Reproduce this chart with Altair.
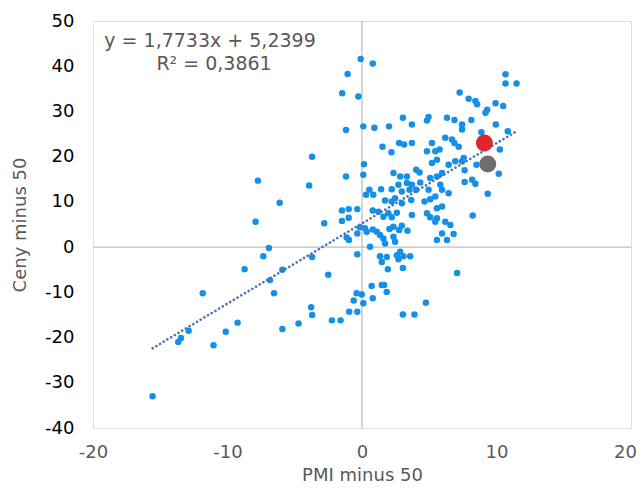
import altair as alt
import pandas as pd

# Blue scatter points: PMI minus 50 (x) and Ceny minus 50 (y)
pmi = [
    -7.74, -3.93, -1.19, -6.12, -7.91, -2.81, -1.49, -0.99, -1.49, -0.99, -0.35, -1.14, -0.97, -0.35,
    -6.92, -7.34, -3.71, -0.35, -8.73, -5.92, -6.84, -2.51, -11.84, -6.54, -0.40, -0.62, -3.78, -3.71,
    -0.95, -0.35, -2.24, -1.59, -4.72, -5.92, -9.25, -10.13, -11.04, -12.89, -13.46, -13.66, -15.57, -3.71,
    -0.10, 0.80, -1.07, -1.47, -0.27, -1.19, 0.10, 0.92, 2.01, 3.04, 3.71, 4.83, 4.95,
    1.52, 2.76, 3.13, 3.71, 2.19, 5.20, 4.83, 5.45, 5.20, 5.57, 0.15, 0.10, 2.34, 2.84, 3.34, 4.03, 4.28,
    4.33, 5.07, 5.57, 3.34, 3.71, 2.71, 2.21, 0.55, 0.84, 1.42, 0.30, 2.96, 3.53, 4.03, 4.95, 1.72, 2.46,
    2.21, 2.96, 3.66, 4.65, 5.07, 5.45, 0.80, 1.22, 1.59, 1.96, 2.21, 2.59, 3.71, 4.83, 5.07, 5.57,
    -0.15, 0.22, 0.35, 0.80, 1.10, 1.34, 1.59, 2.04, 2.34, 2.76, 2.96, 3.38, 2.34, 2.46, 1.72, 0.60,
    1.34, 1.84, 2.84, 3.08, 3.58, 5.57,
    1.47, 2.59, 2.71, 1.92, 3.04, 0.72, 1.47, 1.64, 1.84, -0.02, 0.10, 0.80, 4.75, 3.04, 3.90,
    10.67, 10.67, 11.49, 7.26, 7.93, 8.43, 8.56, 9.93, 10.50, 9.31, 9.18, 6.32, 6.87, 7.44, 7.44, 8.13,
    9.95, 8.88, 10.84, 6.19, 6.69, 6.87, 7.19, 5.77, 10.25,
    10.17, 7.56, 6.44, 6.94, 7.44, 7.63, 8.51, 5.95, 7.63, 8.19, 8.43, 5.82, 5.95, 6.44, 9.35, 5.57,
    5.95, 8.23, 5.45, 6.19, 6.57, 5.95, 6.81, 6.32, 7.07,
]
ceny = [
    14.7, 13.6, 15.6, 9.8, 5.6, 5.3, 8.1, 8.4, 5.8, 6.5, 8.4, 2.1, 1.6, 3.0,
    -0.2, -2.0, -2.2, -1.6, -4.9, -5.0, -7.3, -6.1, -10.2, -10.2, -10.2, -11.8, -13.3, -15.0,
    -14.3, -14.3, -16.2, -16.2, -16.9, -18.1, -16.7, -18.7, -21.7, -18.5, -20.1, -21.0, -33.0, 20.0,
    41.6, 40.6, 38.3, 34.0, 33.3, 25.9, 26.7, 26.4, 26.7, 28.6, 27.1, 28.0, 28.8,
    22.2, 23.0, 22.7, 23.0, 21.0, 23.0, 21.2, 21.2, 18.6, 19.3, 18.3, 16.0, 16.4, 15.6, 15.6, 17.1, 16.5,
    14.3, 15.3, 15.6, 14.2, 13.8, 13.8, 12.8, 12.7, 11.6, 12.8, 11.6, 12.3, 12.7, 12.7, 12.7, 10.3, 10.8,
    10.1, 9.7, 10.4, 10.1, 10.6, 11.2, 8.1, 7.8, 6.7, 7.5, 6.6, 7.6, 7.1, 7.5, 6.6, 6.4,
    4.4, 4.2, 3.4, 3.9, 3.4, 2.7, 1.9, 4.0, 4.5, 3.8, 4.7, 3.6, 2.3, 1.2, 0.8, 0.1,
    -2.0, -2.2, -1.0, -2.0, -2.0, 1.6,
    -3.3, -1.8, -2.7, -4.9, -4.6, -8.6, -8.4, -8.4, -9.9, -10.5, -12.4, -11.3, -12.3, -14.9, -14.9,
    38.2, 36.2, 36.2, 34.2, 32.8, 32.3, 31.6, 31.8, 31.2, 30.4, 29.7, 28.6, 28.1, 27.1, 26.0, 28.1,
    27.1, 25.4, 25.6, 24.2, 23.8, 23.0, 22.2, 21.6, 21.6,
    16.2, 19.7, 18.2, 19.0, 19.0, 17.0, 18.2, 16.4, 14.4, 14.9, 14.0, 13.8, 12.7, 11.9, 11.8, 8.6,
    9.0, 7.0, 5.6, 5.6, 4.9, 3.0, 2.9, 1.6, -5.7,
]

# Highlighted points
hl_x = [9.10, 9.35]
hl_y = [23.0, 18.4]
hl_name = ["red", "gray"]
hl_colors = ["#E0262B", "#6E6E6E"]

# Trendline (Excel linear fit)
slope = 1.7733
intercept = 5.2399

# Equation annotation
eq_text = ["y = 1,7733x + 5,2399", "R² = 0,3861"]
eq_x = [-11.3, -11.0]
eq_y = [45.6, 40.4]

x_ticks = [-20, -10, 0, 10, 20]
y_ticks = [-40, -30, -20, -10, 0, 10, 20, 30, 40, 50]

FONT = "DejaVu Sans"

df = pd.DataFrame({"x": pmi, "y": ceny})
x_min, x_max = min(pmi), max(pmi)
trend = pd.DataFrame({"x": [x_min, x_max],
                      "y": [slope * x_min + intercept, slope * x_max + intercept]})
hl = pd.DataFrame({"x": hl_x, "y": hl_y, "name": hl_name})
eq = pd.DataFrame({"x": eq_x, "y": eq_y, "t": eq_text})

xs = alt.Scale(domain=[-20, 20], nice=False, zero=False)
ys = alt.Scale(domain=[-40, 50], nice=False, zero=False)

xax = alt.Axis(values=x_ticks, domain=False, ticks=False, tickSize=0, grid=False,
               labelFlush=False, labelExpr="'' + datum.value",
               labelOffset={"condition": {"test": "datum.value == 20", "value": -6}, "value": 0},
               labelColor="#595959", labelFontSize=18, labelFont=FONT, labelPadding=15,
               title="PMI minus 50", titleColor="#595959", titleFontSize=18, titleFont=FONT,
               titleFontWeight="normal", titlePadding=5)
yax = alt.Axis(values=y_ticks, domain=False, ticks=False, tickSize=0, grid=False,
               labelFlush=False, labelExpr="'' + datum.value",
               labelColor="#000000", labelFontSize=18, labelFont=FONT, labelPadding=19,
               title="Ceny minus 50", titleColor="#595959", titleFontSize=18, titleFont=FONT,
               titleFontWeight="normal", titlePadding=15)

base_axes = alt.Chart(df).mark_point(opacity=0).encode(
    x=alt.X("x:Q", scale=xs, axis=xax),
    y=alt.Y("y:Q", scale=ys, axis=yax),
)

vline = alt.Chart(pd.DataFrame({"x": [0]})).mark_rule(color="#BFBFBF", strokeWidth=1.3).encode(
    x=alt.X("x:Q", scale=xs))
hline = alt.Chart(pd.DataFrame({"y": [0]})).mark_rule(color="#BFBFBF", strokeWidth=1.3).encode(
    y=alt.Y("y:Q", scale=ys))

pts = alt.Chart(df).mark_circle(size=42, color="#1490E6", opacity=1).encode(
    x=alt.X("x:Q", scale=xs), y=alt.Y("y:Q", scale=ys))

trend_line = alt.Chart(trend).mark_line(color="#4D72B6", strokeWidth=2.6, strokeDash=[0.1, 4.2],
                                        strokeCap="round").encode(
    x=alt.X("x:Q", scale=xs), y=alt.Y("y:Q", scale=ys))

big = alt.Chart(hl).mark_circle(size=290, opacity=1).encode(
    x=alt.X("x:Q", scale=xs), y=alt.Y("y:Q", scale=ys),
    color=alt.Color("name:N", scale=alt.Scale(domain=hl_name, range=hl_colors), legend=None))

eq_marks = alt.Chart(eq).mark_text(font=FONT, fontSize=19, color="#595959", align="center",
                                   baseline="middle").encode(
    x=alt.X("x:Q", scale=xs), y=alt.Y("y:Q", scale=ys), text="t:N")

chart = alt.layer(base_axes, vline, hline, pts, trend_line, big, eq_marks).properties(
    width=538, height=407,
    autosize=alt.AutoSizeParams(type="none"),
    padding={"left": 85, "top": 13, "right": 5, "bottom": 56},
).configure_view(stroke=None).configure(background="white")

chart.save("out.html", embed_options={"renderer": "svg", "actions": False})
